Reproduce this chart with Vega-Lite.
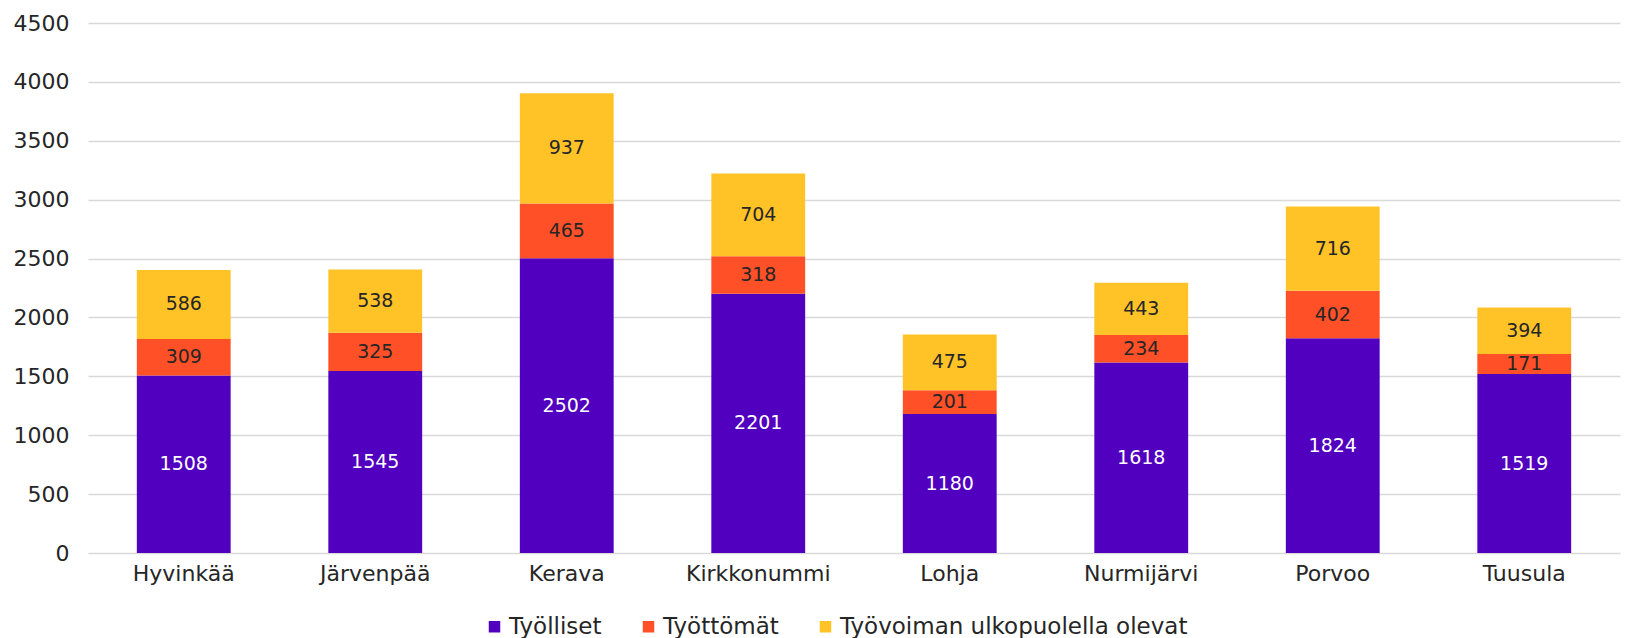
{
  "$schema": "https://vega.github.io/schema/vega-lite/v6.json",
  "autosize": "none",
  "width": 1532,
  "height": 530,
  "padding": {"left": 88, "top": 23, "right": 5, "bottom": 85},
  "background": "white",
  "config": {
    "font": "DejaVu Sans",
    "view": {"stroke": null}
  },
  "data": {
    "values": [
      {"kunta": "Hyvinkää", "ryhma": "Työlliset", "jarj": 1, "arvo": 1508},
      {"kunta": "Hyvinkää", "ryhma": "Työttömät", "jarj": 2, "arvo": 309},
      {"kunta": "Hyvinkää", "ryhma": "Työvoiman ulkopuolella olevat", "jarj": 3, "arvo": 586},
      {"kunta": "Järvenpää", "ryhma": "Työlliset", "jarj": 1, "arvo": 1545},
      {"kunta": "Järvenpää", "ryhma": "Työttömät", "jarj": 2, "arvo": 325},
      {"kunta": "Järvenpää", "ryhma": "Työvoiman ulkopuolella olevat", "jarj": 3, "arvo": 538},
      {"kunta": "Kerava", "ryhma": "Työlliset", "jarj": 1, "arvo": 2502},
      {"kunta": "Kerava", "ryhma": "Työttömät", "jarj": 2, "arvo": 465},
      {"kunta": "Kerava", "ryhma": "Työvoiman ulkopuolella olevat", "jarj": 3, "arvo": 937},
      {"kunta": "Kirkkonummi", "ryhma": "Työlliset", "jarj": 1, "arvo": 2201},
      {"kunta": "Kirkkonummi", "ryhma": "Työttömät", "jarj": 2, "arvo": 318},
      {"kunta": "Kirkkonummi", "ryhma": "Työvoiman ulkopuolella olevat", "jarj": 3, "arvo": 704},
      {"kunta": "Lohja", "ryhma": "Työlliset", "jarj": 1, "arvo": 1180},
      {"kunta": "Lohja", "ryhma": "Työttömät", "jarj": 2, "arvo": 201},
      {"kunta": "Lohja", "ryhma": "Työvoiman ulkopuolella olevat", "jarj": 3, "arvo": 475},
      {"kunta": "Nurmijärvi", "ryhma": "Työlliset", "jarj": 1, "arvo": 1618},
      {"kunta": "Nurmijärvi", "ryhma": "Työttömät", "jarj": 2, "arvo": 234},
      {"kunta": "Nurmijärvi", "ryhma": "Työvoiman ulkopuolella olevat", "jarj": 3, "arvo": 443},
      {"kunta": "Porvoo", "ryhma": "Työlliset", "jarj": 1, "arvo": 1824},
      {"kunta": "Porvoo", "ryhma": "Työttömät", "jarj": 2, "arvo": 402},
      {"kunta": "Porvoo", "ryhma": "Työvoiman ulkopuolella olevat", "jarj": 3, "arvo": 716},
      {"kunta": "Tuusula", "ryhma": "Työlliset", "jarj": 1, "arvo": 1519},
      {"kunta": "Tuusula", "ryhma": "Työttömät", "jarj": 2, "arvo": 171},
      {"kunta": "Tuusula", "ryhma": "Työvoiman ulkopuolella olevat", "jarj": 3, "arvo": 394}
    ]
  },
  "transform": [
    {"stack": "arvo", "groupby": ["kunta"], "sort": [{"field": "jarj", "order": "ascending"}], "as": ["y0", "y1"]},
    {"calculate": "(datum.y0 + datum.y1) / 2", "as": "ymid"}
  ],
  "encoding": {
    "x": {
      "field": "kunta",
      "type": "nominal",
      "sort": null,
      "scale": {"paddingInner": 0.51, "paddingOuter": 0.255},
      "axis": {
        "title": null,
        "labelAngle": 0,
        "labelFont": "DejaVu Sans",
        "labelFontSize": 22,
        "labelColor": "#262626",
        "labelPadding": 10,
        "labelLimit": 300,
        "ticks": false,
        "domain": false
      }
    }
  },
  "layer": [
    {
      "mark": {"type": "bar"},
      "encoding": {
        "y": {
          "field": "y0",
          "type": "quantitative",
          "scale": {"domain": [0, 4500]},
          "axis": {
            "title": null,
            "values": [0, 500, 1000, 1500, 2000, 2500, 3000, 3500, 4000, 4500],
            "labelFontSize": 22,
            "labelColor": "#262626",
            "labelPadding": 19,
            "ticks": false,
            "domain": false,
            "gridColor": "#d9d9d9",
            "gridWidth": 1.5,
            "format": "d"
          }
        },
        "y2": {"field": "y1"},
        "color": {
          "field": "ryhma",
          "type": "nominal",
          "sort": ["Työlliset", "Työttömät", "Työvoiman ulkopuolella olevat"],
          "scale": {
            "domain": ["Työlliset", "Työttömät", "Työvoiman ulkopuolella olevat"],
            "range": ["#5000BE", "#FF5028", "#FFC328"]
          },
          "legend": {
            "title": null,
            "orient": "none",
            "direction": "horizontal",
            "legendX": 395,
            "legendY": 592,
            "symbolType": "square",
            "symbolSize": 132,
            "symbolStrokeWidth": 0,
            "labelFont": "DejaVu Sans",
            "labelFontSize": 23,
            "labelColor": "#262626",
            "labelOffset": 3,
            "labelLimit": 500,
            "columnPadding": 35
          }
        }
      }
    },
    {
      "mark": {"type": "text", "fontSize": 19, "baseline": "middle", "align": "center"},
      "encoding": {
        "y": {"field": "ymid", "type": "quantitative"},
        "text": {"field": "arvo", "type": "quantitative"},
        "color": {
          "condition": {"test": "datum.jarj == 1", "value": "white"},
          "value": "#262626"
        }
      }
    }
  ]
}
